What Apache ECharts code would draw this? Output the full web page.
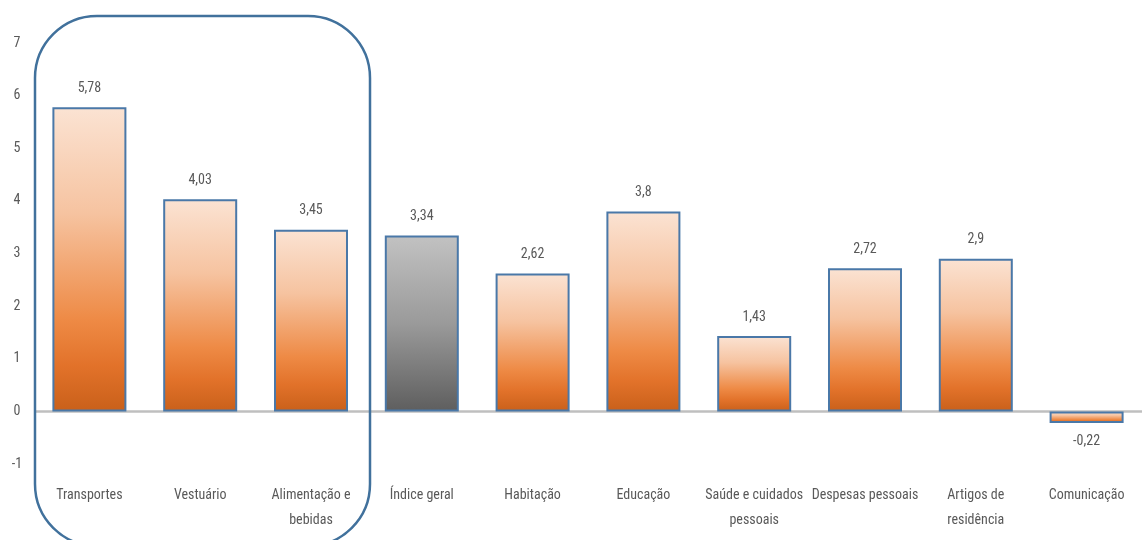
<!DOCTYPE html>
<html>
<head>
<meta charset="utf-8">
<script src="https://cdn.jsdelivr.net/npm/echarts@6/dist/echarts.min.js"></script>
<style>
  html, body { margin: 0; padding: 0; background: #ffffff; }
  #chart { width: 1142px; height: 540px; }
</style>
</head>
<body>
<div id="chart"></div>
<script>
// Variação por grupo de despesa (%)
const categories = [
  'Transportes', 'Vestuário', 'Alimentação e\nbebidas', 'Índice geral', 'Habitação',
  'Educação', 'Saúde e cuidados\npessoais', 'Despesas pessoais', 'Artigos de\nresidência', 'Comunicação'
];
const values = [5.78, 4.03, 3.45, 3.34, 2.62, 3.8, 1.43, 2.72, 2.9, -0.22];
const highlightIndex = 3; // Índice geral drawn in grey
const yTicks = [-1, 0, 1, 2, 3, 4, 5, 6, 7];

const FONT = '"Roboto Condensed", "Liberation Sans Narrow", sans-serif';
const TEXT = '#595959';

const orangeFill = {
  type: 'linear', x: 0, y: 0, x2: 0, y2: 1,
  colorStops: [
    { offset: 0, color: '#FBE3D3' },
    { offset: 0.35, color: '#F6C3A0' },
    { offset: 0.7, color: '#EE8A45' },
    { offset: 0.85, color: '#E2722A' },
    { offset: 1, color: '#C9601A' }
  ]
};
const greyFill = {
  type: 'linear', x: 0, y: 0, x2: 0, y2: 1,
  colorStops: [
    { offset: 0, color: '#C2C2C2' },
    { offset: 0.5, color: '#9A9A9A' },
    { offset: 1, color: '#5E5E5E' }
  ]
};

const barData = values.map((v, i) => ({
  value: v,
  itemStyle: { color: i === highlightIndex ? greyFill : orangeFill },
  label: { position: v < 0 ? 'bottom' : 'top' }
}));

const chart = echarts.init(document.getElementById('chart'));
chart.setOption({
  animation: false,
  grid: { left: 34, top: 43, width: 1122, height: 421 },
  xAxis: {
    type: 'category',
    data: categories,
    axisLine: { show: false, onZero: false },
    axisTick: { show: false },
    axisLabel: {
      margin: 19,
      color: TEXT,
      fontFamily: FONT,
      fontSize: 14,
      lineHeight: 25,
      interval: 0
    }
  },
  yAxis: {
    type: 'value',
    min: yTicks[0],
    max: yTicks[yTicks.length - 1],
    interval: 1,
    axisLine: { show: false },
    axisTick: { show: false },
    splitLine: { show: false },
    axisLabel: { color: TEXT, fontFamily: FONT, fontSize: 14, margin: 17, align: 'center' }
  },
  graphic: [{
    type: 'rect',
    shape: { x: 35, y: 16, width: 335, height: 530, r: 62 },
    style: { fill: 'none', stroke: '#41719C', lineWidth: 2.5 },
    z: 10
  }],
  series: [{
    type: 'bar',
    data: barData,
    barWidth: 74,
    itemStyle: { borderColor: '#4A78A8', borderWidth: 2 },
    label: {
      show: true,
      distance: 12,
      color: TEXT,
      fontFamily: FONT,
      fontSize: 14,
      formatter: p => String(p.value).replace('.', ',')
    },
    markLine: {
      silent: true,
      symbol: 'none',
      label: { show: false },
      lineStyle: { color: '#BFBFBF', width: 2.5, type: 'solid' },
      data: [{ yAxis: 0 }],
      z: 1
    }
  }]
});
</script>
</body>
</html>
